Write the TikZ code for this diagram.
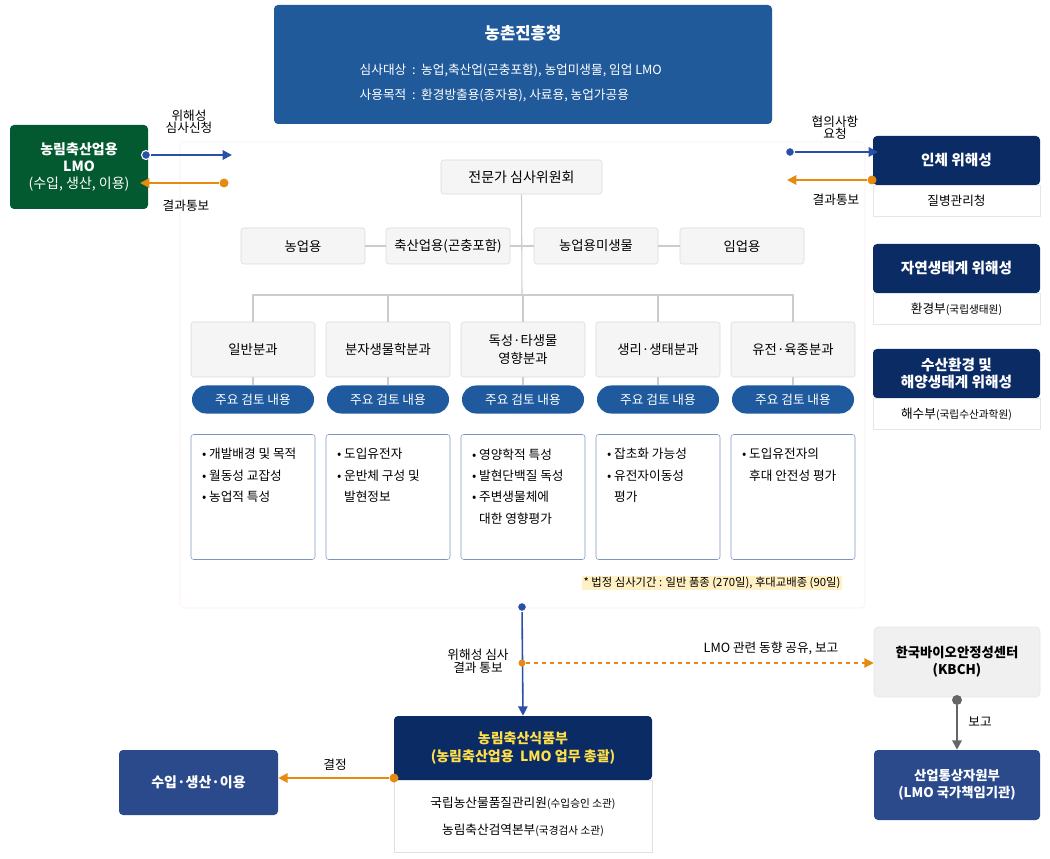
\documentclass[tikz,border=0pt]{standalone}
\usepackage{fontspec}
\setmainfont{Noto Sans CJK KR}
\usetikzlibrary{arrows.meta,positioning}
\definecolor{topblue}{HTML}{215A9B}
\definecolor{green}{HTML}{035A30}
\definecolor{navy}{HTML}{0B2B65}
\definecolor{midblue}{HTML}{2B4A8C}
\definecolor{pill}{HTML}{1F5A9E}
\definecolor{orng}{HTML}{E68A12}
\definecolor{arblue}{HTML}{2A4FA8}
\definecolor{gbox}{HTML}{F5F5F5}
\definecolor{gline}{HTML}{CCCCCC}
\definecolor{cbord}{HTML}{7B95C0}
\definecolor{ylw}{HTML}{FFF1C4}
\definecolor{txty}{HTML}{FFE04A}
\begin{document}
\begin{tikzpicture}[x=0.75pt,y=-0.75pt,
 bx/.style n args={2}{rectangle,inner sep=0pt,minimum width=#1*0.75pt,minimum height=#2*0.75pt,align=center},
 gray box/.style={bx={124}{36},draw=gline!70,fill=gbox,rounded corners=2pt,font=\fontsize{10}{12}\selectfont},
 div/.style={bx={124}{55},draw=gline!70,fill=gbox,rounded corners=2pt,font=\fontsize{10}{13}\selectfont},
 pillst/.style={bx={122}{28},fill=pill,rounded corners=14*0.75pt,text=white,font=\fontsize{9.5}{11}\selectfont},
 cbox/.style={bx={124}{125},draw=cbord,rounded corners=2pt},
 dark/.style={bx={167}{49},fill=navy,text=white,rounded corners=3pt,font=\bfseries\fontsize{11}{13}\selectfont},
 sub/.style={bx={167}{31},draw=gline!50,fill=white,font=\fontsize{9.5}{11}\selectfont},
 lbl/.style={font=\fontsize{9.5}{11}\selectfont,align=center,inner sep=1pt},
 item/.style={font=\fontsize{9.5}{16}\selectfont,align=left,anchor=north west,inner sep=0pt},
 conn/.style={gline,line width=0.8pt},
 dotb/.style={circle,fill=arblue,draw=white,line width=0.8pt,inner sep=0pt,minimum size=9*0.75pt},
 doto/.style={circle,fill=orng,inner sep=0pt,minimum size=9*0.75pt},
 ab/.style={arblue,line width=1.5pt,-{Triangle[length=7pt,width=7pt]}},
 ao/.style={orng,line width=1.5pt,-{Triangle[length=7pt,width=7pt]}}]
\useasboundingbox (0,0) rectangle (1050,859);
% panel
\node[bx={685}{466},draw=red!8,rounded corners=3pt] (panel) at (522.5,375) {};
% top
\node[bx={498}{119},fill=topblue,rounded corners=3pt,text=white] (rda) at (523,64.5) {};
\node[text=white,font=\bfseries\fontsize{12.5}{14}\selectfont] (rdat) at (523,33) {농촌진흥청};
\node[text=white,font=\fontsize{9.5}{11}\selectfont,anchor=west] (rda1) at (355,70) {심사대상\ \ :\ \ 농업,축산업(곤충포함), 농업미생물, 임업 LMO};
\node[text=white,font=\fontsize{9.5}{11}\selectfont,anchor=west] (rda2) at (355,95) {사용목적\ \ :\ \ 환경방출용(종자용), 사료용, 농업가공용};
% green
\node[bx={138}{84},fill=green,rounded corners=3pt,text=white,font=\fontsize{10.5}{13}\selectfont] (lmo) at (79,167) {\textbf{농림축산업용}\\\textbf{LMO}\\(수입, 생산, 이용)};
\node[dotb] (d1) at (146,155) {};
\coordinate (e1) at (232,155);
\draw[ab] (d1) -- (e1);
\node[doto] (d2) at (224,183) {};
\coordinate (e2) at (140,183);
\draw[ao] (d2) -- (e2);
\node[lbl] (l1) at (189,122) {위해성\\[-2pt]심사신청};
\node[lbl] (l2) at (186,206) {결과통보};
% right agencies
\node[dark] (h1) at (956.5,160.5) {인체 위해성};
\node[sub,anchor=north] (h1s) at (h1.south) {질병관리청};
\node[dark] (h2) at (956.5,268.5) {자연생태계 위해성};
\node[sub,anchor=north] (h2s) at (h2.south) {환경부{\fontsize{8}{10}\selectfont(국립생태원)}};
\node[dark,font=\bfseries\fontsize{11}{12.5}\selectfont] (h3) at (956.5,373.5) {수산환경 및\\해양생태계 위해성};
\node[sub,anchor=north] (h3s) at (h3.south) {해수부{\fontsize{8}{10}\selectfont(국립수산과학원)}};
\node[dotb] (d3) at (790,152) {};
\coordinate (e3) at (878,152);
\draw[ab] (d3) -- (e3);
\node[doto] (d4) at (872,180) {};
\coordinate (e4) at (787,180);
\draw[ao] (d4) -- (e4);
\node[lbl] (l3) at (835,128) {협의사항\\[-2pt]요청};
\node[lbl] (l4) at (836,200) {결과통보};
% committee
\node[bx={161}{34},draw=gline!70,fill=gbox,rounded corners=2pt,font=\fontsize{10.5}{12}\selectfont] (com) at (521.5,177) {전문가 심사위원회};
\node[gray box] (u1) at (303,246) {농업용};
\node[gray box] (u2) at (448,246) {축산업용(곤충포함)};
\node[gray box] (u3) at (596,246) {농업용미생물};
\node[gray box] (u4) at (742,246) {임업용};
\draw[conn] (u1) -- (u2); \draw[conn] (u2) -- (u3); \draw[conn] (u3) -- (u4);
\coordinate (j) at (522,295);
\draw[conn] (com.south) -- (j);
\node[div] (v1) at (253,349.5) {일반분과};
\node[div] (v2) at (388,349.5) {분자생물학분과};
\node[div] (v3) at (523,349.5) {독성·타생물\\영향분과};
\node[div] (v4) at (658,349.5) {생리·생태분과};
\node[div] (v5) at (793,349.5) {유전·육종분과};
\draw[conn] (v1.north) |- (j) -| (v5.north);
\foreach \i in {2,3,4}{\draw[conn] (v\i.north) -- (v\i.north |- j);}
\foreach \i in {1,...,5}{
 \node[pillst] (p\i) at ([yshift=-50*0.75pt]v\i.center) {주요 검토 내용};
 \draw[conn] (v\i.south) -- (p\i.north);
 \node[cbox] (c\i) at ([yshift=-147.5*0.75pt]v\i.center) {};
}
\node[item] (t1) at ([xshift=11*0.75pt,yshift=-14*0.75pt]c1.north west) {•\ 개발배경 및 목적\\•\ 월동성 교잡성\\•\ 농업적 특성};
\node[item] (t2) at ([xshift=11*0.75pt,yshift=-14*0.75pt]c2.north west) {•\ 도입유전자\\•\ 운반체 구성 및\\\phantom{•\ }발현정보};
\node[item] (t3) at ([xshift=11*0.75pt,yshift=-14*0.75pt]c3.north west) {•\ 영양학적 특성\\•\ 발현단백질 독성\\•\ 주변생물체에\\\phantom{•\ }대한 영향평가};
\node[item] (t4) at ([xshift=11*0.75pt,yshift=-14*0.75pt]c4.north west) {•\ 잡초화 가능성\\•\ 유전자이동성\\\phantom{•\ }평가};
\node[item] (t5) at ([xshift=11*0.75pt,yshift=-14*0.75pt]c5.north west) {•\ 도입유전자의\\\phantom{•\ }후대 안전성 평가};
\node[fill=ylw,inner sep=1pt,font=\fontsize{8.5}{10}\selectfont] (note) at (712,583) {* 법정 심사기간 : 일반 품종 (270일), 후대교배종 (90일)};
% bottom
\node[dotb] (d5) at (522,607) {};
\node[bx={258}{64},fill=navy,rounded corners=3pt,text=txty,font=\bfseries\fontsize{10.5}{13}\selectfont] (maf) at (523,748) {농림축산식품부\\(농림축산업용\ \ LMO 업무 총괄)};
\node[bx={258}{72},draw=gline!60,fill=white,anchor=north,font=\fontsize{9.5}{20}\selectfont] (mafs) at (maf.south) {국립농산물품질관리원{\fontsize{8}{10}\selectfont(수입승인 소관)}\\농림축산검역본부{\fontsize{8}{10}\selectfont(국경검사 소관)}};
\draw[ab,line width=1.2pt] (d5) -- (maf.north);
\node[lbl] (l5) at (478,661) {위해성 심사\\[-1pt]결과 통보};
\node[doto,minimum size=7*0.75pt] (d6) at (522,663) {};
\node[bx={166}{70},fill=gray!12,draw=gray!20,rounded corners=3pt,font=\bfseries\fontsize{10}{12.5}\selectfont] (kb) at (957,662) {한국바이오안정성센터\\(KBCH)};
\draw[orng,dashed,line width=0.9pt,-{Triangle[length=7pt,width=7pt]}] (d6) -- (kb.west |- d6);
\node[lbl] (l6) at (771,648) {LMO 관련 동향 공유, 보고};
\node[bx={166}{70},fill=midblue,rounded corners=3pt,text=white,font=\bfseries\fontsize{10}{12.5}\selectfont] (motie) at (957,785) {산업통상자원부\\(LMO 국가책임기관)};
\node[circle,fill=gray!80!black,inner sep=0pt,minimum size=10*0.75pt] (d7) at (957,700) {};
\draw[gray!80!black,line width=1.5pt,-{Triangle[length=7pt,width=7pt]}] (d7) -- (motie.north);
\node[lbl] (l7) at (980,722) {보고};
\node[bx={159}{65},fill=midblue,rounded corners=3pt,text=white,font=\bfseries\fontsize{10.5}{12}\selectfont] (imp) at (198.5,782.5) {수입·생산·이용};
\node[doto] (d8) at (394,778) {};
\draw[ao] (d8) -- (imp.east |- d8);
\node[lbl] (l8) at (335,765) {결정};
\end{tikzpicture}
\end{document}
